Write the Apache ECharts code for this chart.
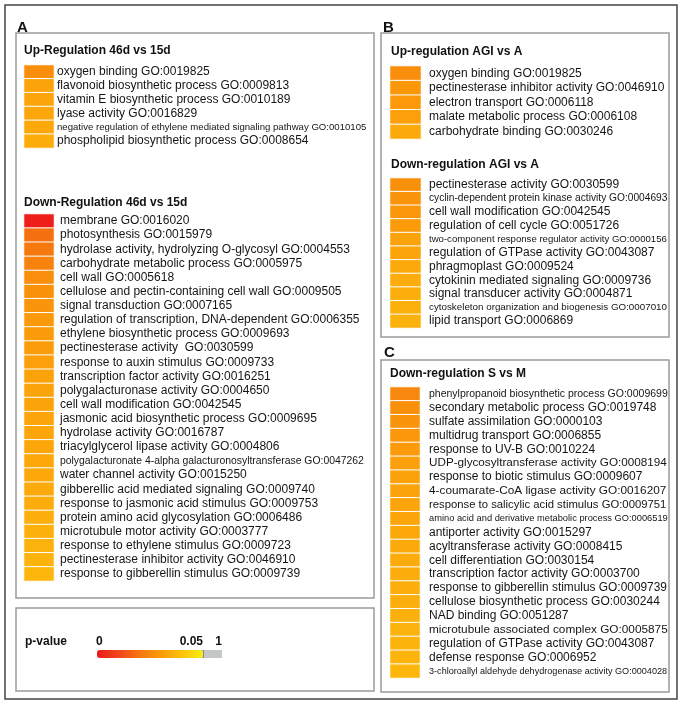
<!DOCTYPE html>
<html>
<head>
<meta charset="utf-8">
<script src="https://cdn.jsdelivr.net/npm/echarts@6/dist/echarts.min.js"></script>
<style>
  html, body { margin: 0; padding: 0; background: #fff; }
  #chart { width: 685px; height: 706px; }
</style>
</head>
<body>
<div id="chart"></div>
<script>
const aUpTerms = [
  'oxygen binding GO:0019825',
  'flavonoid biosynthetic process GO:0009813',
  'vitamin E biosynthetic process GO:0010189',
  'lyase activity GO:0016829',
  'negative regulation of ethylene mediated signaling pathway GO:0010105',
  'phospholipid biosynthetic process GO:0008654'
];
const aUpP = [0.0265, 0.032, 0.0325, 0.033, 0.0335, 0.0345];

const aDownTerms = [
  'membrane GO:0016020',
  'photosynthesis GO:0015979',
  'hydrolase activity, hydrolyzing O-glycosyl GO:0004553',
  'carbohydrate metabolic process GO:0005975',
  'cell wall GO:0005618',
  'cellulose and pectin-containing cell wall GO:0009505',
  'signal transduction GO:0007165',
  'regulation of transcription, DNA-dependent GO:0006355',
  'ethylene biosynthetic process GO:0009693',
  'pectinesterase activity  GO:0030599',
  'response to auxin stimulus GO:0009733',
  'transcription factor activity GO:0016251',
  'polygalacturonase activity GO:0004650',
  'cell wall modification GO:0042545',
  'jasmonic acid biosynthetic process GO:0009695',
  'hydrolase activity GO:0016787',
  'triacylglycerol lipase activity GO:0004806',
  'polygalacturonate 4-alpha galacturonosyltransferase GO:0047262',
  'water channel activity GO:0015250',
  'gibberellic acid mediated signaling GO:0009740',
  'response to jasmonic acid stimulus GO:0009753',
  'protein amino acid glycosylation GO:0006486',
  'microtubule motor activity GO:0003777',
  'response to ethylene stimulus GO:0009723',
  'pectinesterase inhibitor activity GO:0046910',
  'response to gibberellin stimulus GO:0009739'
];
const aDownP = [0.001, 0.019, 0.021, 0.0235, 0.0265, 0.0275, 0.0285, 0.0295, 0.030,
  0.0305, 0.031, 0.0315, 0.032, 0.0322, 0.0325, 0.0328, 0.033, 0.0333, 0.0335,
  0.034, 0.0345, 0.035, 0.0355, 0.036, 0.0365, 0.0375];

const bUpTerms = [
  'oxygen binding GO:0019825',
  'pectinesterase inhibitor activity GO:0046910',
  'electron transport GO:0006118',
  'malate metabolic process GO:0006108',
  'carbohydrate binding GO:0030246'
];
const bUpP = [0.0265, 0.029, 0.0295, 0.031, 0.034];

const bDownTerms = [
  'pectinesterase activity GO:0030599',
  'cyclin-dependent protein kinase activity GO:0004693',
  'cell wall modification GO:0042545',
  'regulation of cell cycle GO:0051726',
  'two-component response regulator activity GO:0000156',
  'regulation of GTPase activity GO:0043087',
  'phragmoplast GO:0009524',
  'cytokinin mediated signaling GO:0009736',
  'signal transducer activity GO:0004871',
  'cytoskeleton organization and biogenesis GO:0007010',
  'lipid transport GO:0006869'
];
const bDownP = [0.027, 0.0285, 0.029, 0.030, 0.032, 0.0325, 0.034, 0.0345, 0.035, 0.0355, 0.036];

const cDownTerms = [
  'phenylpropanoid biosynthetic process GO:0009699',
  'secondary metabolic process GO:0019748',
  'sulfate assimilation GO:0000103',
  'multidrug transport GO:0006855',
  'response to UV-B GO:0010224',
  'UDP-glycosyltransferase activity GO:0008194',
  'response to biotic stimulus GO:0009607',
  '4-coumarate-CoA ligase activity GO:0016207',
  'response to salicylic acid stimulus GO:0009751',
  'amino acid and derivative metabolic process GO:0006519',
  'antiporter activity GO:0015297',
  'acyltransferase activity GO:0008415',
  'cell differentiation GO:0030154',
  'transcription factor activity GO:0003700',
  'response to gibberellin stimulus GO:0009739',
  'cellulose biosynthetic process GO:0030244',
  'NAD binding GO:0051287',
  'microtubule associated complex GO:0005875',
  'regulation of GTPase activity GO:0043087',
  'defense response GO:0006952',
  '3-chloroallyl aldehyde dehydrogenase activity GO:0004028'
];
const cDownP = [0.025, 0.027, 0.0285, 0.029, 0.030, 0.031, 0.0315, 0.032, 0.0325, 0.033,
  0.0335, 0.034, 0.0342, 0.0345, 0.035, 0.0352, 0.0355, 0.036, 0.0362, 0.0365, 0.037];

const panelTitles = ['Up-Regulation 46d vs 15d', 'Down-Regulation 46d vs 15d',
  'Up-regulation AGI vs A', 'Down-regulation AGI vs A', 'Down-regulation S vs M'];
const scaleTicks = ['0', '0.05', '1'];
const scaleColors = ['#ec1b1b', '#f0451a', '#f5750f', '#fb9b0a', '#fdc10d', '#f6ee10'];

const FONT = '"Liberation Sans", Arial, sans-serif';

// shrink long labels to fit the box, like the original figure
const measureCtx = document.createElement('canvas').getContext('2d');
measureCtx.font = '12px ' + FONT;
function fitSize(text, maxW) {
  const w = measureCtx.measureText(text).width;
  return w > maxW ? Math.floor(12 * maxW / w * 10) / 10 : 12;
}

const panels = [
  { terms: aUpTerms, p: aUpP, left: 24, top: 65, height: 83, width: 30, gap: 3, maxW: 310, title: [24, 45] },
  { terms: aDownTerms, p: aDownP, left: 24, top: 214, height: 367, width: 30, gap: 6, maxW: 307, title: [24, 197] },
  { terms: bUpTerms, p: bUpP, left: 390, top: 66, height: 73, width: 31, gap: 8, maxW: 239, title: [391, 46] },
  { terms: bDownTerms, p: bDownP, left: 390, top: 178, height: 150, width: 31, gap: 8, maxW: 239, title: [391, 159] },
  { terms: cDownTerms, p: cDownP, left: 390, top: 387, height: 291, width: 30, gap: 9, maxW: 239, title: [390, 368] }
];

const grid = [], xAxis = [], yAxis = [], series = [], title = [];
panels.forEach((pn, i) => {
  grid.push({ left: pn.left, top: pn.top, width: pn.width, height: pn.height });
  xAxis.push({
    type: 'category', gridIndex: i, data: ['p'],
    axisLine: { show: false }, axisTick: { show: false }, axisLabel: { show: false }, splitLine: { show: false }
  });
  const rich = {};
  pn.terms.forEach((t, k) => {
    rich['r' + k] = { fontSize: fitSize(t, pn.maxW), fontFamily: FONT, color: '#151515' };
  });
  yAxis.push({
    type: 'category', gridIndex: i, data: pn.terms, inverse: true, position: 'right',
    axisLine: { show: false }, axisTick: { show: false }, splitLine: { show: false },
    axisLabel: {
      interval: 0, margin: pn.gap, align: 'left',
      formatter: (v, k) => '{r' + k + '|' + v + '}',
      rich: rich
    }
  });
  series.push({
    type: 'heatmap', xAxisIndex: i, yAxisIndex: i,
    data: pn.p.map((v, k) => [0, k, v]),
    itemStyle: { borderColor: '#fff', borderWidth: 1 },
    emphasis: { disabled: true }
  });
  title.push({
    text: panelTitles[i], left: pn.title[0], top: pn.title[1], padding: 0,
    textStyle: { fontSize: 12, fontWeight: 'bold', color: '#111', fontFamily: FONT }
  });
});

function box(x1, y1, x2, y2, color, lw) {
  return {
    type: 'rect', silent: true,
    shape: { x: x1, y: y1, width: x2 - x1, height: y2 - y1 },
    style: { fill: null, stroke: color, lineWidth: lw }
  };
}
function label(text, x, y, size, align) {
  return {
    type: 'text', silent: true, x: x, y: y,
    style: { text: text, font: 'bold ' + size + 'px ' + FONT, fill: '#111', align: align || 'left', verticalAlign: 'top' }
  };
}

const chart = echarts.init(document.getElementById('chart'));
chart.setOption({
  animation: false,
  backgroundColor: '#fff',
  title: title,
  grid: grid,
  xAxis: xAxis,
  yAxis: yAxis,
  series: series,
  visualMap: {
    type: 'continuous', min: 0, max: 0.05, seriesIndex: [0, 1, 2, 3, 4],
    orient: 'horizontal', left: 92, top: 645, itemWidth: 8, itemHeight: 106,
    calculable: false, hoverLink: false, text: null, showLabel: false, padding: 5,
    inRange: { color: scaleColors }
  },
  graphic: [
    box(5, 5, 677, 699, '#444', 1.5),
    box(16, 33, 374, 598, '#9a9a9a', 1.5),
    box(16, 608, 374, 691, '#9a9a9a', 1.5),
    box(381, 33, 669, 337, '#9a9a9a', 1.5),
    box(381, 360, 669, 692, '#9a9a9a', 1.5),
    label('A', 17, 20, 15),
    label('B', 383, 20, 15),
    label('C', 384, 345, 15),
    label('p-value', 25, 636, 12),
    label(scaleTicks[0], 96, 636, 12),
    label(scaleTicks[1], 203, 636, 12, 'right'),
    label(scaleTicks[2], 222, 636, 12, 'right'),
    {
      type: 'rect', silent: true,
      shape: { x: 203, y: 650, width: 19, height: 8 },
      style: { fill: '#c3c7c7', stroke: null }
    },
    {
      type: 'line', silent: true,
      shape: { x1: 203, y1: 650, x2: 203, y2: 658 },
      style: { stroke: '#555', lineWidth: 1 }
    }
  ]
});
</script>
</body>
</html>
